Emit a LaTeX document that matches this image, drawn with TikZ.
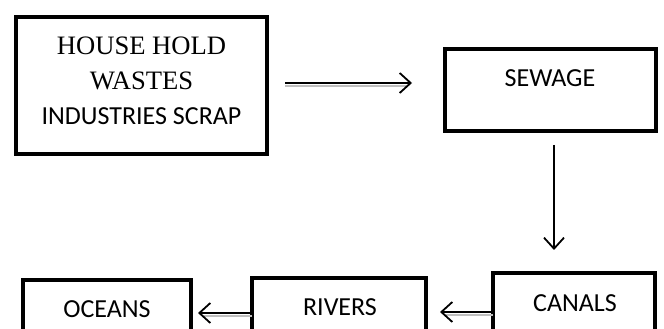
\documentclass[tikz,border=0pt]{standalone}
\usepackage{fontspec}
\setmainfont{Liberation Serif}
\newfontfamily\calfont{Carlito}
\usetikzlibrary{arrows.meta}
\begin{document}
\begin{tikzpicture}[x=1pt,y=1pt,
  box/.style={draw, line width=4.5pt, rectangle, inner sep=0pt, outer sep=0pt},
  lbl/.style={anchor=base, inner sep=0pt, font=\calfont\fontsize{26}{30}\selectfont},
  serlbl/.style={anchor=base, inner sep=0pt, font=\fontsize{26.6}{30}\selectfont},
  barb/.style={-{Straight Barb[length=11pt,width=20pt,line width=1.8pt]}},
  dblarrow/.style={line width=2.3pt, barb,
     preaction={draw, -, gray!50, line width=2pt, shorten >=5pt, transform canvas={yshift=-3pt}}},
  sglarrow/.style={line width=1.8pt, barb}]
\useasboundingbox (0,0) rectangle (664,329);
\clip (0,0) rectangle (664,329);
% boxes
\node[box, minimum width=251pt, minimum height=137pt] (hh) at (141.5,243.5) {};
\node[box, minimum width=211pt, minimum height=82pt] (sew) at (550.5,239) {};
\node[box, minimum width=162pt, minimum height=72pt] (can) at (574,20) {};
\node[box, minimum width=174pt, minimum height=67pt] (riv) at (339,17.5) {};
\node[box, minimum width=168pt, minimum height=65pt] (oce) at (107,16.5) {};
% texts
\node[serlbl] (t1) at (141.5,274) {HOUSE HOLD};
\node[serlbl] (t2) at (141.5,239) {WASTES};
\node[lbl] (t3) at (141.5,204) {INDUSTRIES SCRAP};
\node[lbl] (t4) at (550,242) {SEWAGE};
\node[lbl] (t5) at (575,17) {CANALS};
\node[lbl] (t6) at (340,13) {RIVERS};
\node[lbl] (t7) at (107,11) {OCEANS};
% connectors
\draw[dblarrow] ([xshift=18pt,yshift=2.5pt]hh.east) -- ([xshift=-33pt,yshift=7pt]sew.west);
\draw[sglarrow] ([xshift=3.5pt,yshift=-14pt]sew.south) -- ([xshift=-20pt,yshift=23pt]can.north);
\draw[dblarrow] ([yshift=-3pt]can.west) -- ([xshift=14pt,yshift=-0.5pt]riv.east);
\draw[dblarrow] ([yshift=-1.5pt]riv.west) -- ([xshift=7pt,yshift=-0.5pt]oce.east);
\end{tikzpicture}
\end{document}
